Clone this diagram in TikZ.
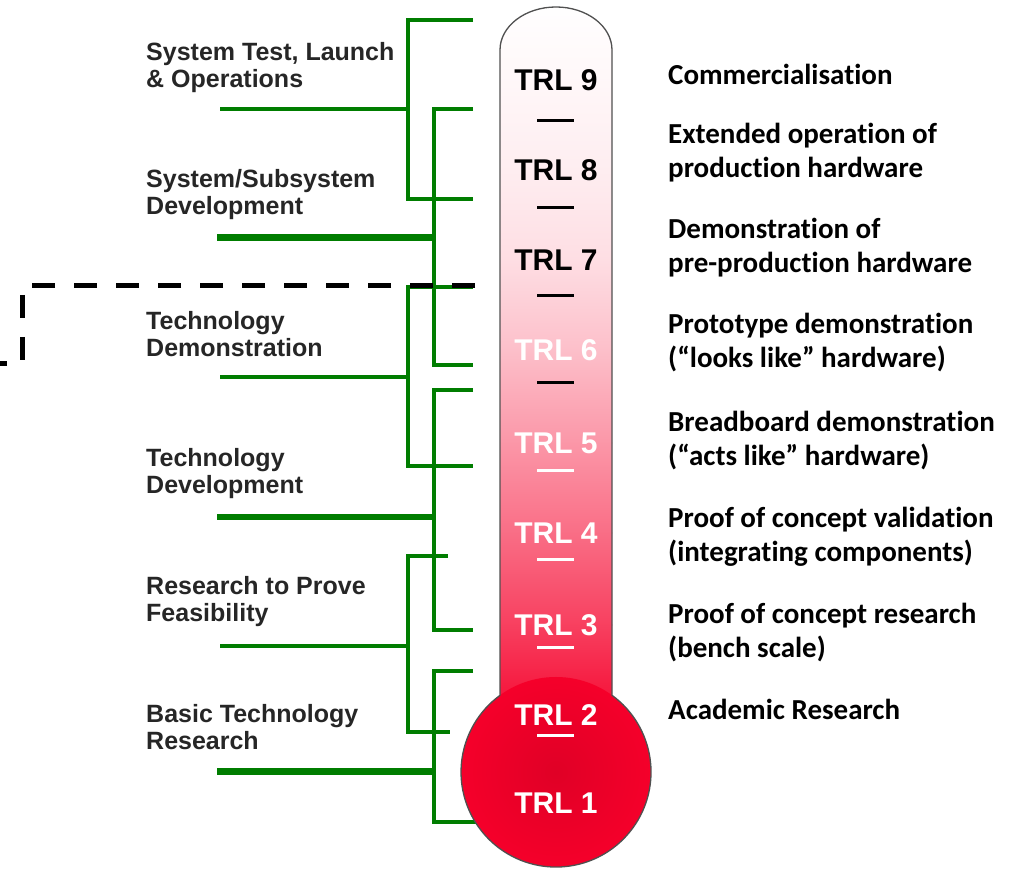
\documentclass[tikz,border=0pt]{standalone}
\usepackage{fontspec}
\setmainfont{Liberation Sans}
\newfontfamily\carl[Ligatures=CommonOff]{Carlito}
\definecolor{grn}{RGB}{0,125,0}
\definecolor{bulbred}{RGB}{245,0,42}
\definecolor{bulbdark}{RGB}{224,0,38}
\definecolor{outl}{RGB}{80,80,80}
\definecolor{lbl}{RGB}{38,38,38}
\begin{document}
\begin{tikzpicture}[x=1pt,y=1pt,
  bracket/.style={draw=grn, line width=4.5pt},
  stage/.style={font=\bfseries\fontsize{25}{27}\selectfont, text=lbl, align=left, anchor=base west, inner sep=0pt},
  desc/.style={font=\carl\bfseries\fontsize{29}{34}\selectfont, text=black, align=left, anchor=base west, inner sep=0pt},
  trl/.style={font=\bfseries\fontsize{30}{30}\selectfont, anchor=center, inner sep=0pt},
  tickmark/.style={line width=3pt}]
\useasboundingbox (0,0) rectangle (1013,870);

% ---------- left stage labels (anchored at the baseline of the last line) ----------
\node[stage] (s1) at (146,782) {System Test, Launch\\\& Operations};
\node[stage] (s2) at (146,655) {System/Subsystem\\Development};
\node[stage] (s3) at (146,513) {Technology\\Demonstration};
\node[stage] (s4) at (146,376) {Technology\\Development};
\node[stage] (s5) at (146,248) {Research to Prove\\Feasibility};
\node[stage] (s6) at (146,120) {Basic Technology\\Research};

% ---------- bracket coordinates ----------
\coordinate (t1) at (473,850); \coordinate (j1) at (408,761); \coordinate (e1) at (473,671); \coordinate (l1) at (220,761);
\coordinate (t2) at (473,761); \coordinate (j2) at (434,632); \coordinate (e2) at (473,505); \coordinate (l2) at (217,632);
\coordinate (t3) at (473,583); \coordinate (j3) at (408,493); \coordinate (e3) at (473,404); \coordinate (l3) at (220,493);
\coordinate (t4) at (473,480); \coordinate (j4) at (434,353); \coordinate (e4) at (473,240); \coordinate (l4) at (217,353);
\coordinate (t5) at (448,314); \coordinate (j5) at (408,224); \coordinate (e5) at (450,138); \coordinate (l5) at (220,224);
\coordinate (t6) at (473,199); \coordinate (j6) at (434,98);  \coordinate (e6) at (480,48);  \coordinate (l6) at (217,98);

\draw[bracket] (t1) -| (j1) |- (e1); \draw[bracket] (l1) -- (j1);
\draw[bracket] (t2) -| (j2) |- (e2); \draw[bracket, line width=7pt] (l2) -- (j2);
\draw[bracket] (t3) -| (j3) |- (e3); \draw[bracket] (l3) -- (j3);
\draw[bracket] (t4) -| (j4) |- (e4); \draw[bracket, line width=5.5pt] (l4) -- (j4);
\draw[bracket] (t5) -| (j5) |- (e5); \draw[bracket] (l5) -- (j5);
\draw[bracket] (t6) -| (j6) |- (e6); \draw[bracket, line width=7pt] (l6) -- (j6);

% ---------- dashed boundary ----------
\coordinate (d0) at (475,584); \coordinate (d1) at (22,584);
\coordinate (d2) at (22,506);  \coordinate (d3) at (0,506);
\draw[black, line width=5pt, dash pattern=on 23pt off 19pt] (d0) -- (d1) -- (d2) -- (d3);

% ---------- thermometer ----------
\begin{scope}
\clip (500,150) -- (500,820) arc[start angle=180,end angle=0,x radius=56pt,y radius=43pt] -- (612,150) -- cycle;
\shade[top color=bulbred!0!white,  bottom color=bulbred!3!white]  (495,870)   rectangle (617,789.5);
\shade[top color=bulbred!3!white,  bottom color=bulbred!7!white]  (495,790.5) rectangle (617,699.5);
\shade[top color=bulbred!7!white,  bottom color=bulbred!13!white] (495,700.5) rectangle (617,609.5);
\shade[top color=bulbred!13!white, bottom color=bulbred!25!white] (495,610.5) rectangle (617,519.5);
\shade[top color=bulbred!25!white, bottom color=bulbred!41!white] (495,520.5) rectangle (617,426.5);
\shade[top color=bulbred!41!white, bottom color=bulbred!57!white] (495,427.5) rectangle (617,336.5);
\shade[top color=bulbred!57!white, bottom color=bulbred!75!white] (495,337.5) rectangle (617,244.5);
\shade[top color=bulbred!75!white, bottom color=bulbred!92!white] (495,245.5) rectangle (617,169.5);
\fill[bulbred] (495,170.5) rectangle (617,140);
\end{scope}
\shade[inner color=bulbdark, outer color=bulbred] (556,98) circle[radius=95pt];
\coordinate (jl) at (500,174.7); \coordinate (jr) at (612,174.7);
\draw[outl, line width=1.3pt, line join=round] (jl) -- (500,820) arc[start angle=180,end angle=0,x radius=56pt,y radius=43pt] -- (jr) arc[start angle=53.9,end angle=-233.9,radius=95pt];

% ---------- TRL labels and ticks ----------
\node[trl, text=black] (n9) at (556,790) {TRL 9};
\node[trl, text=black] (n8) at (556,700) {TRL 8};
\node[trl, text=black] (n7) at (556,610) {TRL 7};
\node[trl, text=white] (n6) at (556,520) {TRL 6};
\node[trl, text=white] (n5) at (556,427) {TRL 5};
\node[trl, text=white] (n4) at (556,337) {TRL 4};
\node[trl, text=white] (n3) at (556,245) {TRL 3};
\node[trl, text=white] (n2) at (556,155) {TRL 2};
\node[trl, text=white] (n1) at (556,67)  {TRL 1};
\foreach \yy in {749,662,574,487} \draw[tickmark, black] (537,\yy) -- (574,\yy);
\foreach \yy in {399,310,222,134} \draw[tickmark, white] (537,\yy) -- (574,\yy);

% ---------- right descriptions (anchored at the baseline of the last line) ----------
\node[desc] (r9) at (668,785) {Commercialisation};
\node[desc] (r8) at (668,692) {Extended operation of\\production hardware};
\node[desc] (r7) at (668,597) {Demonstration of\\pre-production hardware};
\node[desc] (r6) at (668,502) {Prototype demonstration\\(“looks like” hardware)};
\node[desc] (r5) at (668,404) {Breadboard demonstration\\(“acts like” hardware)};
\node[desc] (r4) at (668,308) {Proof of concept validation\\(integrating components)};
\node[desc] (r3) at (668,212) {Proof of concept research\\(bench scale)};
\node[desc] (r2) at (668,150) {Academic Research};
\end{tikzpicture}
\end{document}
